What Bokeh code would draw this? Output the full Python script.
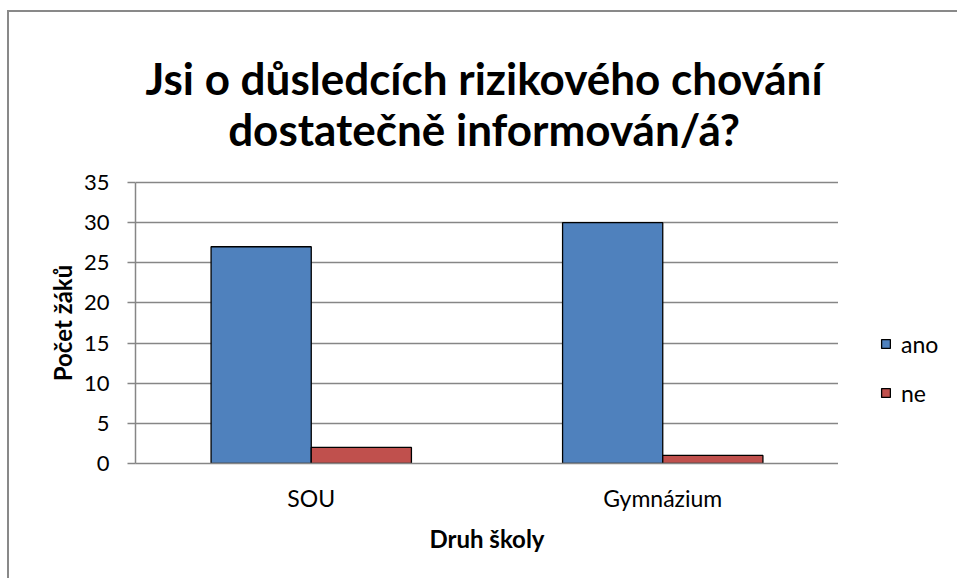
import math
from bokeh.plotting import figure
from bokeh.layouts import row
from bokeh.models import (FactorRange, Range1d, FixedTicker, Legend, LegendItem,
                          ColumnDataSource, Label)
from bokeh.transform import dodge
from bokeh.embed import file_html
from bokeh.resources import INLINE

categories = ["SOU", "Gymnázium"]
series_names = ["ano", "ne"]
ano = [27, 30]
ne = [2, 1]
y_ticks = [0, 5, 10, 15, 20, 25, 30, 35]
title_lines = ["Jsi o důsledcích rizikového chování", "dostatečně informován/á?"]
x_title = "Druh školy"
y_title = "Počet žáků"

colors = {"ano": "#4F81BD", "ne": "#C0504D"}
FONT = "Lato"

# layout (pixels): frame from y=12 (canvas top) to 463; value axis 0..35 occupies 182..463
FRAME_BOTTOM = 463
FRAME_H = 451
AXIS_H = 281
y_max = y_ticks[-1]
y_end = y_max * FRAME_H / AXIS_H


def px_to_y(py):
    return (FRAME_BOTTOM - py) / FRAME_H * y_end


src = ColumnDataSource(dict(cat=categories, ano=ano, ne=ne))
yr = Range1d(0, y_end)

p = figure(x_range=FactorRange(*categories, range_padding=0),
           y_range=yr, title=None,
           width=759, height=566,
           output_backend="svg", toolbar_location=None,
           min_border_left=56, min_border_right=0,
           min_border_top=0, min_border_bottom=115)

for line, base_py in zip(title_lines, [77, 128]):
    p.add_layout(Label(x=len(categories) / 2, y=px_to_y(base_py), x_offset=-3,
                       text=line, text_align="center", text_baseline="alphabetic",
                       text_font=FONT, text_font_size="44px", text_font_style="bold",
                       text_color="#000000"))

bw = 0.285
r1 = p.vbar(x=dodge("cat", -bw / 2, range=p.x_range), top="ano", width=bw, source=src,
            fill_color=colors["ano"], line_color="#000000", line_width=1.3)
r2 = p.vbar(x=dodge("cat", bw / 2, range=p.x_range), top="ne", width=bw, source=src,
            fill_color=colors["ne"], line_color="#000000", line_width=1.3)

p.outline_line_color = None
p.background_fill_color = "white"
p.border_fill_color = "white"

# grid
p.xgrid.grid_line_color = None
p.ygrid.ticker = FixedTicker(ticks=y_ticks)
p.ygrid.grid_line_color = "#868686"
p.ygrid.grid_line_width = 1.5

# y axis
p.yaxis.ticker = FixedTicker(ticks=y_ticks)
p.yaxis.bounds = (0, y_max)
p.yaxis.axis_line_color = "#868686"
p.yaxis.axis_line_width = 1.5
p.yaxis.major_tick_line_color = "#868686"
p.yaxis.major_tick_line_width = 1.5
p.yaxis.major_tick_out = 8
p.yaxis.major_tick_in = 0
p.yaxis.minor_tick_line_color = None
p.yaxis.major_label_standoff = 18
p.yaxis.major_label_text_font = FONT
p.yaxis.major_label_text_font_size = "22px"
p.yaxis.major_label_text_color = "#000000"

# x axis
p.xaxis.axis_line_color = "#868686"
p.xaxis.axis_line_width = 1.5
p.xaxis.major_tick_line_color = None
p.xaxis.minor_tick_line_color = None
p.xaxis.major_label_standoff = 14
p.xaxis.major_label_text_font = FONT
p.xaxis.major_label_text_font_size = "23px"
p.xaxis.major_label_text_color = "#000000"
p.xaxis.axis_label = x_title
p.xaxis.axis_label_text_font = FONT
p.xaxis.axis_label_text_font_size = "24px"
p.xaxis.axis_label_text_font_style = "bold"
p.xaxis.axis_label_text_color = "#000000"
p.xaxis.axis_label_standoff = 9

# left strip carrying the value-axis title, centred on the value axis
p0 = figure(width=70, height=566, x_range=Range1d(0, 70), y_range=yr,
            title=None, output_backend="svg", toolbar_location=None,
            x_axis_location=None, y_axis_location=None,
            min_border_left=0, min_border_right=0, min_border_top=0, min_border_bottom=115)
p0.grid.visible = False
p0.outline_line_color = None
p0.background_fill_color = "white"
p0.border_fill_color = "white"
p0.add_layout(Label(x=53, y=px_to_y(322.5), text=y_title, angle=math.pi / 2,
                    text_align="center", text_baseline="middle",
                    text_font=FONT, text_font_size="24px", text_font_style="bold",
                    text_color="#000000"))

# legend panel (separate canvas to the right of the plot area)
p2 = figure(width=119, height=566, x_range=Range1d(0, 1), y_range=Range1d(0, 1),
            title=None, output_backend="svg", toolbar_location=None,
            x_axis_location=None, y_axis_location=None,
            min_border_left=0, min_border_right=0, min_border_top=0, min_border_bottom=0)
p2.grid.visible = False
p2.outline_line_color = None
p2.background_fill_color = "white"
p2.border_fill_color = "white"
nan = float("nan")
l1 = p2.vbar(x=[nan], top=[nan], width=0.1, fill_color=colors["ano"],
             line_color="#000000", line_width=1.3)
l2 = p2.vbar(x=[nan], top=[nan], width=0.1, fill_color=colors["ne"],
             line_color="#000000", line_width=1.3)

legend = Legend(items=[LegendItem(label=series_names[0], renderers=[l1]),
                       LegendItem(label=series_names[1], renderers=[l2])],
                location=(42, 56.5), orientation="vertical",
                glyph_width=11, glyph_height=11,
                spacing=21, padding=0, margin=0, label_standoff=10,
                label_text_font=FONT, label_text_font_size="23px",
                label_text_color="#000000",
                border_line_color=None, background_fill_alpha=0)
p2.add_layout(legend, "center")

layout = row(p0, p, p2, styles={"border-left": "2px solid #898989",
                                "border-top": "2px solid #898989",
                                "margin-left": "7px", "margin-top": "10px"})

open("out.html", "w").write(file_html(layout, INLINE))
